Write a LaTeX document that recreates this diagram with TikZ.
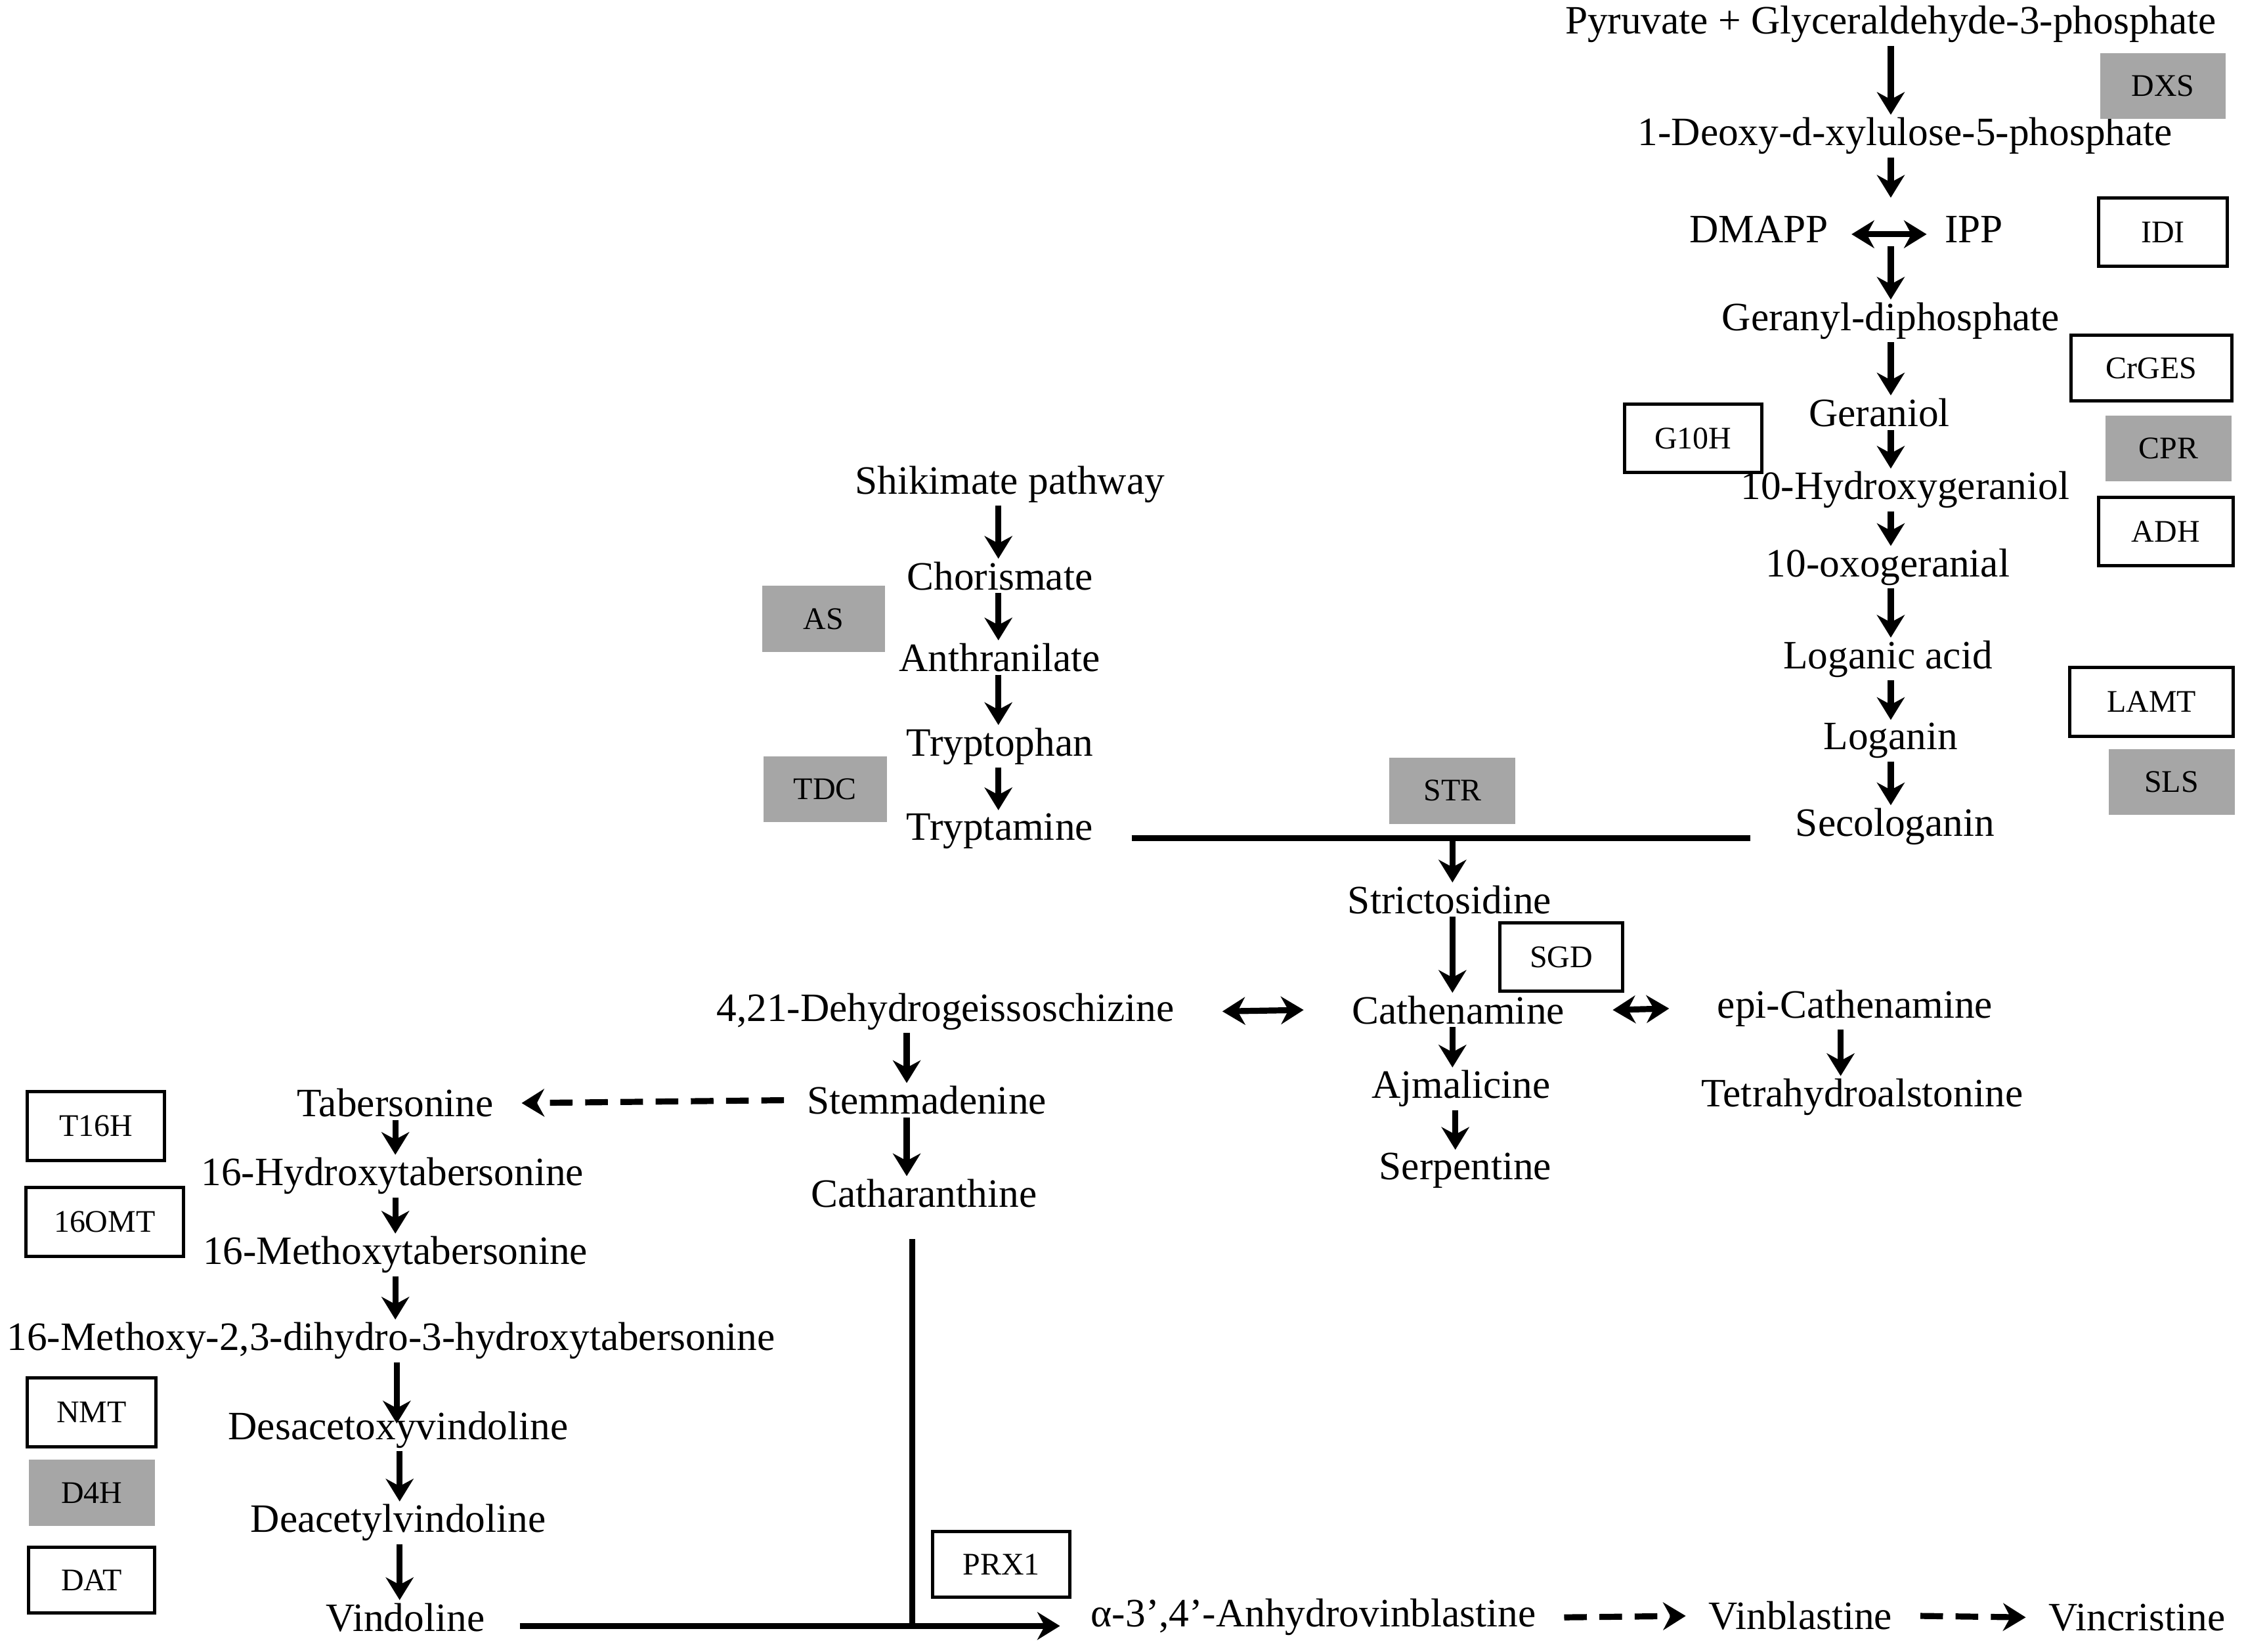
\documentclass[tikz,border=0pt]{standalone}
\usepackage{fontspec}
\setmainfont{Liberation Serif}
\usetikzlibrary{arrows.meta}
\begin{document}
\begin{tikzpicture}[x=0.02cm,y=-0.02cm,
  t/.style={inner sep=1pt,font=\fontsize{16}{18}\selectfont},
  arr/.style={line width=2.4pt,-{Stealth[length=9pt,width=11pt]}},
  darr/.style={line width=2.4pt,{Stealth[length=9pt,width=11pt]}-{Stealth[length=9pt,width=11pt]}},
  dsh/.style={arr,dash pattern=on 9pt off 5pt},
  ln/.style={line width=2.4pt},
  wb/.style={draw,line width=1.3pt,fill=white,inner sep=0pt,font=\fontsize{12.5}{14}\selectfont},
  gb/.style={fill=black!35,inner sep=0pt,font=\fontsize{12.5}{14}\selectfont}]
\useasboundingbox (0,0) rectangle (1568,1153);
% metabolites
\node[t] (pyr) at (1320,17) {Pyruvate + Glyceraldehyde-3-phosphate};
\node[t] (dxp) at (1330,95) {1-Deoxy-\textsc{d}-xylulose-5-phosphate};
\node[t] (dmapp) at (1228,160) {DMAPP};
\node[t] (ipp) at (1378,160) {IPP};
\node[t] (gpp) at (1320,224) {Geranyl-diphosphate};
\node[t] (ger) at (1312,288) {Geraniol};
\node[t] (hg) at (1330,342) {10-Hydroxygeraniol};
\node[t] (oxo) at (1318,396) {10-oxogeranial};
\node[t] (loga) at (1318,460) {Loganic acid};
\node[t] (logn) at (1320,517) {Loganin};
\node[t] (seco) at (1323,577) {Secologanin};
\node[t] (shik) at (705,338) {Shikimate pathway};
\node[t] (chor) at (698,402) {Chorismate};
\node[t] (anth) at (698,459) {Anthranilate};
\node[t] (trp) at (698,521) {Tryptophan};
\node[t] (tryp) at (698,580) {Tryptamine};
\node[t] (stri) at (1012,628) {Strictosidine};
\node[t] (cathe) at (1018,705) {Cathenamine};
\node[t] (dehy) at (660,706) {4,21-Dehydrogeissoschizine};
\node[t] (epi) at (1295,704) {epi-Cathenamine};
\node[t] (ajm) at (1020,760) {Ajmalicine};
\node[t] (serp) at (1023,817) {Serpentine};
\node[t] (thal) at (1300,766) {Tetrahydroalstonine};
\node[t] (tab) at (276,770) {Tabersonine};
\node[t] (stem) at (647,768) {Stemmadenine};
\node[t] (cath) at (645,833) {Catharanthine};
\node[t] (htab) at (274,821) {16-Hydroxytabersonine};
\node[t] (mtab) at (276,876) {16-Methoxytabersonine};
\node[t] (mdh) at (273,936) {16-Methoxy-2,3-dihydro-3-hydroxytabersonine};
\node[t] (desa) at (278,998) {Desacetoxyvindoline};
\node[t] (deac) at (278,1063) {Deacetylvindoline};
\node[t] (vind) at (283,1129) {Vindoline};
\node[t] (anhy) at (917,1129) {α-3’,4’-Anhydrovinblastine};
\node[t] (vinb) at (1257,1128) {Vinblastine};
\node[t] (vinc) at (1492,1129) {Vincristine};
% enzymes
\node[gb,minimum width=1.76cm,minimum height=0.92cm] (dxs) at (1510,60) {DXS};
\node[wb,minimum width=1.8cm,minimum height=0.96cm] (idi) at (1510,162) {IDI};
\node[wb,minimum width=2.24cm,minimum height=0.92cm] (crges) at (1502,257) {CrGES};
\node[gb,minimum width=1.76cm,minimum height=0.92cm] (cpr) at (1514,313) {CPR};
\node[wb,minimum width=1.88cm,minimum height=0.96cm] (adh) at (1512,371) {ADH};
\node[wb,minimum width=1.92cm,minimum height=0.96cm] (g10h) at (1182,306) {G10H};
\node[wb,minimum width=2.28cm,minimum height=0.96cm] (lamt) at (1502,490) {LAMT};
\node[gb,minimum width=1.76cm,minimum height=0.92cm] (sls) at (1516,546) {SLS};
\node[gb,minimum width=1.72cm,minimum height=0.92cm] (as) at (575,432) {AS};
\node[gb,minimum width=1.72cm,minimum height=0.92cm] (tdc) at (576,551) {TDC};
\node[gb,minimum width=1.76cm,minimum height=0.92cm] (str) at (1014,552) {STR};
\node[wb,minimum width=1.72cm,minimum height=0.96cm] (sgd) at (1090,668) {SGD};
\node[wb,minimum width=1.92cm,minimum height=0.96cm] (t16h) at (67,786) {T16H};
\node[wb,minimum width=2.2cm,minimum height=0.96cm] (omt) at (73,853) {16OMT};
\node[wb,minimum width=1.8cm,minimum height=0.96cm] (nmt) at (64,986) {NMT};
\node[gb,minimum width=1.76cm,minimum height=0.92cm] (d4h) at (64,1042) {D4H};
\node[wb,minimum width=1.76cm,minimum height=0.92cm] (dat) at (64,1103) {DAT};
\node[wb,minimum width=1.92cm,minimum height=0.92cm] (prx) at (699,1092) {PRX1};
% coordinates
\coordinate (dm) at (1320,172);
\coordinate (lt1) at (790,585);
\coordinate (lt2) at (1222,585);
\coordinate (ls) at (1014,587);
\coordinate (ct) at (637,865);
\coordinate (cb) at (637,1135);
\coordinate (vl) at (363,1135);
\coordinate (va) at (740,1135);
% arrows right column
\draw[arr] (pyr.south -| 1320,0) -- (dxp.north -| 1320,0);
\draw[arr] (dxp.south -| 1320,0) -- (1320,138);
\draw[darr] ([xshift=8pt,yshift=-2pt]dmapp.east) -- ([xshift=-6pt,yshift=-2pt]ipp.west);
\draw[arr] (dm) -- (gpp.north -| 1320,0);
\draw[arr] (gpp.south -| 1320,0) -- (ger.north -| 1320,0);
\draw[arr] (ger.south -| 1320,0) -- (hg.north -| 1320,0);
\draw[arr] (hg.south -| 1320,0) -- (oxo.north -| 1320,0);
\draw[arr] (oxo.south -| 1320,0) -- (loga.north -| 1320,0);
\draw[arr] (loga.south -| 1320,0) -- (logn.north -| 1320,0);
\draw[arr] (logn.south -| 1320,0) -- (seco.north -| 1320,0);
% indole column
\draw[arr] (shik.south -| 697,0) -- (chor.north -| 697,0);
\draw[arr] (chor.south -| 697,0) -- (anth.north -| 697,0);
\draw[arr] (anth.south -| 697,0) -- (trp.north -| 697,0);
\draw[arr] (trp.south -| 697,0) -- (tryp.north -| 697,0);
\draw[ln] (lt1) -- (lt2);
\draw[arr] (ls) -- (stri.north -| 1014,0);
\draw[arr] (stri.south -| 1014,0) -- (cathe.north -| 1014,0);
\draw[darr] ([xshift=-18pt]cathe.west) -- ([xshift=18pt]dehy.east);
\draw[darr] ([xshift=18pt]cathe.east) -- ([xshift=-18pt]epi.west);
\draw[arr] (cathe.south -| 1014,0) -- (ajm.north -| 1014,0);
\draw[arr] (ajm.south -| 1016,0) -- (serp.north -| 1016,0);
\draw[arr] (epi.south -| 1285,0) -- (thal.north -| 1285,0);
\draw[arr] (dehy.south -| 633,0) -- (stem.north -| 633,0);
\draw[arr] (stem.south -| 633,0) -- (cath.north -| 633,0);
\draw[dsh] ([xshift=-8pt]stem.west) -- ([xshift=10pt]tab.east);
% vindoline column
\draw[arr] (tab.south -| 276,0) -- (htab.north -| 276,0);
\draw[arr] (htab.south -| 276,0) -- (mtab.north -| 276,0);
\draw[arr] (mtab.south -| 276,0) -- (mdh.north -| 276,0);
\draw[arr] (mdh.south -| 277,0) -- ([yshift=-6pt]desa.north -| 277,0);
\draw[arr] (desa.south -| 279,0) -- (deac.north -| 279,0);
\draw[arr] (deac.south -| 279,0) -- (vind.north -| 279,0);
\draw[ln] (ct) -- (cb);
\draw[arr] (vl) -- (va);
\draw[dsh] ([xshift=10pt]anhy.east) -- ([xshift=-8pt]vinb.west);
\draw[dsh] ([xshift=10pt]vinb.east) -- ([xshift=-8pt]vinc.west);
\end{tikzpicture}
\end{document}
